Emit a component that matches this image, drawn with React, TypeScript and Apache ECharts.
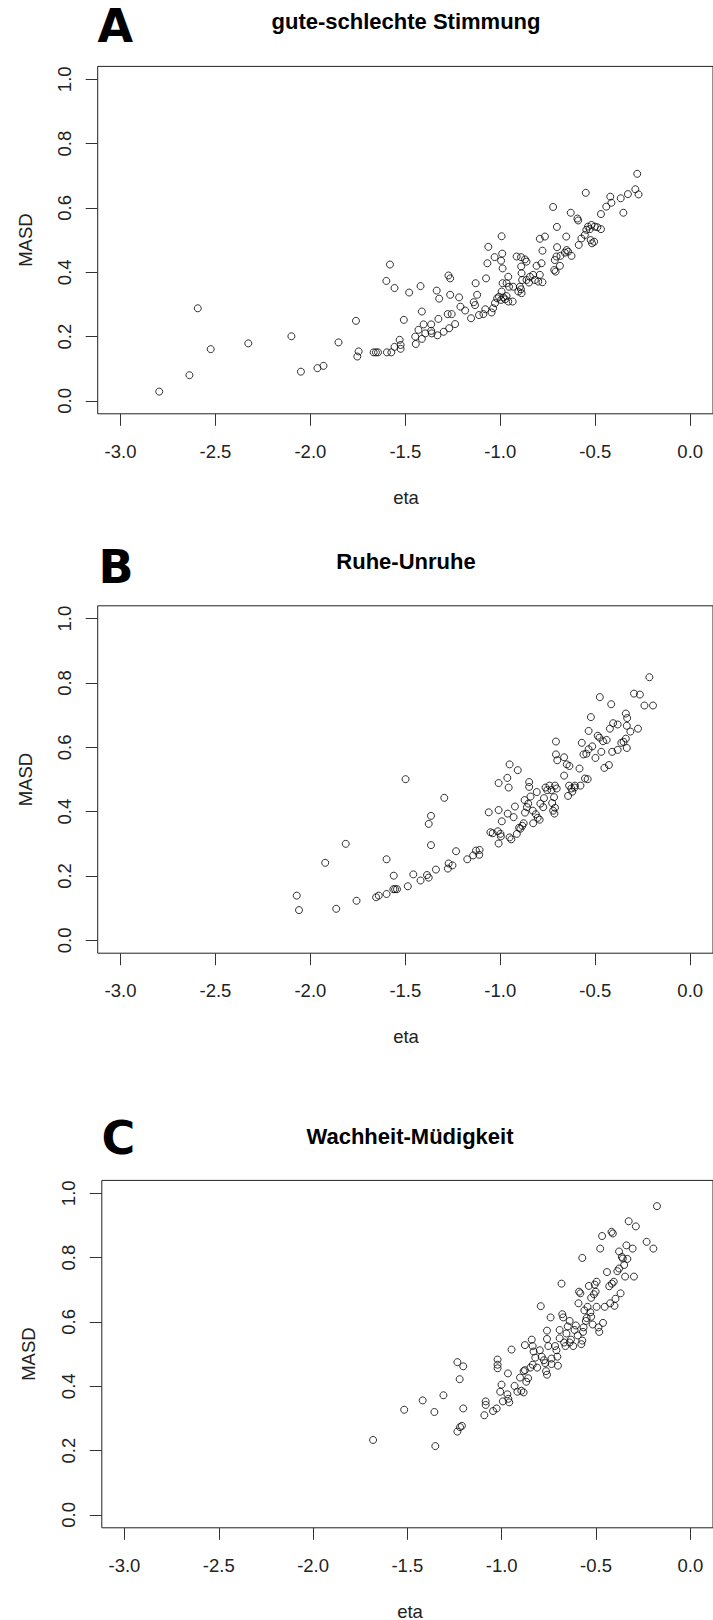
import React, { useEffect, useRef } from "react";
import * as echarts from "echarts";

const xTicks = [-3.0, -2.5, -2.0, -1.5, -1.0, -0.5, 0.0];
const yTicks = [0.0, 0.2, 0.4, 0.6, 0.8, 1.0];
const panelLetters = ["A", "B", "C"];
const panelTitles = ["gute-schlechte Stimmung", "Ruhe-Unruhe", "Wachheit-Müdigkeit"];
const xName = "eta";
const yName = "MASD";

const pointsA = [
  [-2.796,0.029],[-2.637,0.080],[-2.593,0.288],[-2.525,0.161],[-2.327,0.179],[-2.100,0.201],[-2.050,0.091],[-1.963,0.102],[-1.931,0.109],[-1.852,0.182],[-1.760,0.249],[-1.746,0.154],[-1.753,0.138],[-1.667,0.151],[-1.655,0.151],[-1.644,0.151],[-1.597,0.151],[-1.574,0.151],[-1.600,0.373],[-1.581,0.424],[-1.557,0.351],[-1.557,0.168],[-1.530,0.190],[-1.525,0.174],[-1.525,0.162],[-1.508,0.252],[-1.480,0.337],
  [-1.420,0.357],[-1.413,0.278],[-1.445,0.177],[-1.448,0.200],[-1.431,0.221],[-1.413,0.193],[-1.404,0.238],[-1.395,0.210],[-1.364,0.218],[-1.361,0.210],[-1.364,0.238],[-1.331,0.204],[-1.335,0.343],[-1.322,0.318],[-1.326,0.255],[-1.298,0.215],[-1.273,0.390],[-1.264,0.381],[-1.277,0.270],[-1.256,0.270],[-1.264,0.330],[-1.269,0.226],[-1.238,0.239],[-1.217,0.322],[-1.210,0.293],[-1.185,0.281],[-1.154,0.257],[-1.140,0.307],[-1.133,0.298],[-1.130,0.366],[-1.122,0.330],[-1.112,0.267],[-1.089,0.270],[-1.079,0.285],[-1.075,0.381],[-1.068,0.428],[-1.063,0.479],[-1.046,0.275],[-1.030,0.447],[-0.990,0.458],[-0.993,0.512],[-0.996,0.436],[-0.988,0.412],[-0.988,0.366],
  [-1.017,0.319],[-1.007,0.324],[-0.996,0.314],[-0.984,0.322],[-0.975,0.316],[-0.967,0.326],[-0.958,0.309],[-0.935,0.309],[-1.028,0.304],[-1.038,0.288],[-0.993,0.340],[-0.954,0.355],[-0.932,0.355],[-0.958,0.386],[-0.967,0.366],
  [-0.914,0.449],[-0.891,0.447],[-0.870,0.440],[-0.862,0.433],[-0.890,0.418],[-0.888,0.397],[-0.885,0.376],[-0.897,0.355],[-0.905,0.340],[-0.888,0.335],[-0.891,0.347],[-0.862,0.376],[-0.844,0.386],[-0.827,0.392],[-0.818,0.376],[-0.849,0.368],[-0.800,0.371],[-0.778,0.369],[-0.792,0.392],[-0.809,0.420],[-0.783,0.428],[-0.778,0.467],[-0.792,0.504],[-0.765,0.511],[-0.702,0.541],[-0.722,0.603],[-0.701,0.478],[-0.653,0.511],[-0.629,0.585],[-0.594,0.567],[-0.590,0.561],[-0.550,0.647],[-0.713,0.438],[-0.704,0.449],[-0.716,0.407],[-0.709,0.402],[-0.686,0.420],[-0.683,0.451],[-0.660,0.461],[-0.643,0.464],[-0.625,0.451],[-0.651,0.469],[-0.587,0.485],[-0.573,0.505],[-0.555,0.516],[-0.547,0.532],[-0.538,0.542],[-0.529,0.534],[-0.520,0.547],[-0.503,0.542],[-0.489,0.540],[-0.470,0.534],[-0.524,0.500],[-0.517,0.490],[-0.506,0.495],[-0.470,0.581],[-0.442,0.604],[-0.421,0.635],[-0.415,0.616],[-0.366,0.630],[-0.352,0.585],[-0.328,0.643],[-0.289,0.658],[-0.279,0.706],[-0.272,0.642]
];

const pointsB = [
  [-2.072,0.139],[-2.060,0.094],[-1.922,0.241],[-1.864,0.098],[-1.814,0.300],[-1.757,0.123],[-1.654,0.134],[-1.640,0.139],[-1.599,0.252],[-1.599,0.144],[-1.561,0.201],[-1.563,0.159],[-1.554,0.159],[-1.544,0.159],[-1.499,0.501],[-1.487,0.168],[-1.458,0.205],[-1.420,0.186],[-1.386,0.203],[-1.377,0.195],[-1.377,0.362],[-1.365,0.387],[-1.365,0.296],[-1.339,0.220],[-1.295,0.443],[-1.276,0.223],[-1.272,0.239],[-1.252,0.233],[-1.233,0.277],[-1.174,0.252],[-1.143,0.264],[-1.128,0.279],[-1.109,0.281],[-1.111,0.266],
  [-1.061,0.398],[-1.052,0.336],[-1.040,0.333],[-1.009,0.405],[-1.009,0.489],[-1.009,0.301],[-1.013,0.339],[-0.999,0.331],[-0.997,0.323],[-0.992,0.370],[-0.963,0.505],[-0.951,0.547],[-0.956,0.475],[-0.961,0.394],[-0.951,0.320],[-0.942,0.314],[-0.930,0.383],[-0.923,0.416],[-0.908,0.529],[-0.913,0.331],[-0.901,0.350],[-0.894,0.347],[-0.884,0.356],[-0.877,0.364],[-0.870,0.397],[-0.872,0.436],[-0.860,0.414],[-0.853,0.425],[-0.848,0.492],[-0.848,0.477],[-0.841,0.447],[-0.829,0.403],[-0.827,0.364],[-0.813,0.392],[-0.803,0.381],[-0.793,0.375],[-0.808,0.461],[-0.789,0.425],[-0.774,0.414],[-0.770,0.442],[-0.762,0.475],[-0.753,0.467],[-0.741,0.481],[-0.731,0.467],[-0.727,0.427],[-0.722,0.403],[-0.715,0.394],[-0.712,0.412],[-0.717,0.445],[-0.712,0.481],[-0.703,0.472],
  [-0.707,0.618],[-0.707,0.578],[-0.700,0.560],[-0.664,0.569],[-0.664,0.512],[-0.650,0.547],[-0.636,0.542],[-0.643,0.449],[-0.638,0.481],[-0.626,0.472],[-0.621,0.462],[-0.609,0.475],[-0.607,0.481],[-0.583,0.534],[-0.578,0.481],[-0.571,0.614],[-0.562,0.578],[-0.554,0.503],[-0.540,0.501],[-0.547,0.580],[-0.535,0.594],[-0.535,0.651],[-0.523,0.694],[-0.516,0.603],[-0.499,0.567],[-0.487,0.636],[-0.478,0.630],[-0.476,0.756],[-0.468,0.586],[-0.459,0.619],[-0.452,0.536],[-0.440,0.623],[-0.428,0.545],[-0.416,0.734],[-0.423,0.658],[-0.411,0.586],[-0.406,0.675],[-0.382,0.671],[-0.382,0.592],[-0.363,0.614],[-0.351,0.617],[-0.339,0.705],[-0.332,0.691],[-0.334,0.667],[-0.339,0.627],[-0.334,0.598],[-0.315,0.649],[-0.296,0.767],[-0.265,0.764],[-0.275,0.658],[-0.241,0.730],[-0.215,0.818],[-0.196,0.730]
];

const pointsC = [
  [-1.682,0.233],[-1.517,0.327],[-1.419,0.356],[-1.357,0.320],[-1.352,0.214],[-1.309,0.372],[-1.235,0.475],[-1.223,0.422],[-1.204,0.462],[-1.204,0.331],[-1.235,0.259],[-1.221,0.273],[-1.211,0.277],[-1.092,0.310],[-1.085,0.353],[-1.085,0.342],[-1.046,0.323],[-1.027,0.331],[-1.022,0.483],[-1.022,0.467],[-1.022,0.456],[-1.001,0.405],[-1.008,0.383],[-0.994,0.353],[-0.970,0.375],[-0.965,0.361],[-0.960,0.350],[-0.967,0.440],[-0.948,0.514],[-0.932,0.401],[-0.917,0.383],[-0.896,0.386],[-0.884,0.381],[-0.903,0.427],[-0.884,0.447],[-0.877,0.450],[-0.877,0.528],[-0.870,0.414],[-0.860,0.425],[-0.848,0.458],[-0.836,0.467],[-0.841,0.545],[-0.836,0.525],[-0.831,0.508],[-0.822,0.489],[-0.812,0.458],
  [-0.793,0.649],[-0.798,0.512],[-0.788,0.492],[-0.776,0.481],[-0.769,0.472],[-0.765,0.447],[-0.760,0.436],[-0.760,0.573],[-0.760,0.547],[-0.753,0.525],[-0.741,0.614],[-0.736,0.486],[-0.736,0.469],[-0.717,0.525],[-0.710,0.512],[-0.705,0.492],[-0.702,0.464],[-0.693,0.549],[-0.693,0.575],[-0.683,0.719],[-0.679,0.624],[-0.674,0.614],[-0.669,0.536],[-0.662,0.525],[-0.657,0.564],[-0.650,0.586],[-0.640,0.603],[-0.640,0.536],[-0.633,0.545],[-0.621,0.525],[-0.614,0.575],[-0.607,0.589],[-0.597,0.558],[-0.593,0.658],[-0.590,0.694],[-0.583,0.689],[-0.573,0.799],[-0.578,0.531],[-0.573,0.542],[-0.569,0.569],[-0.566,0.583],[-0.562,0.636],[-0.554,0.603],[-0.550,0.612],[-0.545,0.647],[-0.538,0.712],[-0.530,0.630],[-0.526,0.616],[-0.526,0.675],[-0.518,0.592],[-0.511,0.686],[-0.502,0.694],[-0.507,0.716],[-0.497,0.725],[-0.497,0.647],[-0.487,0.583],[-0.483,0.569],
  [-0.478,0.828],[-0.468,0.867],[-0.463,0.597],[-0.454,0.647],[-0.442,0.755],[-0.430,0.711],[-0.425,0.658],[-0.418,0.880],[-0.411,0.875],[-0.416,0.719],[-0.406,0.725],[-0.402,0.650],[-0.397,0.672],[-0.387,0.758],[-0.378,0.766],[-0.378,0.819],[-0.370,0.689],[-0.363,0.802],[-0.358,0.797],[-0.351,0.777],[-0.346,0.741],[-0.339,0.838],[-0.327,0.913],[-0.334,0.796],[-0.306,0.828],[-0.299,0.741],[-0.289,0.897],[-0.232,0.849],[-0.196,0.828],[-0.177,0.960]
];

const panelPoints = [pointsA, pointsB, pointsC];

const FONT = "'Liberation Sans', Arial, sans-serif";

// layout per panel (pixel geometry only)
const layout = [
  { left: 97.7, top: 66.4, letterX: 97.5, letterY: 26, titleX: 406, titleY: 21, etaY: 497, masdX: 25 },
  { left: 97.7, top: 605.8, letterX: 98.5, letterY: 566.5, titleX: 406, titleY: 561, etaY: 1036, masdX: 25 },
  { left: 101.8, top: 1180.4, letterX: 101.5, letterY: 1138, titleX: 410, titleY: 1136, etaY: 1611, masdX: 28 },
];
const GRID_W = 617;
const GRID_H = 347.4;

export default function App() {
  const ref = useRef<HTMLDivElement>(null);
  useEffect(() => {
    if (!ref.current) return;
    const chart = echarts.init(ref.current, undefined, { renderer: "svg" });
    const grids = layout.map((l) => ({
      left: l.left,
      top: l.top,
      width: GRID_W,
      height: GRID_H,
      show: true,
      borderColor: "#222",
      borderWidth: 1,
      backgroundColor: "transparent",
      containLabel: false,
    }));
    const xAxes = layout.map((_, i) => ({
      type: "value",
      gridIndex: i,
      position: "bottom",
      min: -3.12,
      max: 0.12,
      axisLine: { show: false, onZero: false },
      splitLine: { show: false },
      axisTick: { show: true, inside: false, length: 12, lineStyle: { color: "#333", width: 1 }, customValues: xTicks },
      axisLabel: {
        show: true,
        customValues: xTicks,
        formatter: (v: number) => v.toFixed(1),
        fontFamily: FONT,
        fontSize: 18.5,
        color: "#222",
        margin: 28,
      },
    }));
    const yAxes = layout.map((_, i) => ({
      type: "value",
      gridIndex: i,
      position: "left",
      min: -0.04,
      max: 1.04,
      axisLine: { show: false, onZero: false },
      splitLine: { show: false },
      axisTick: { show: true, inside: false, length: 12, lineStyle: { color: "#333", width: 1 }, customValues: yTicks },
      axisLabel: {
        show: true,
        customValues: yTicks,
        rotate: 90,
        formatter: (v: number) => v.toFixed(1),
        fontFamily: FONT,
        fontSize: 18.5,
        color: "#222",
        margin: 24,
      },
    }));
    const series = panelPoints.map((pts, i) => ({
      type: "scatter",
      xAxisIndex: i,
      yAxisIndex: i,
      data: pts,
      symbol: "circle",
      symbolSize: 7,
      itemStyle: { color: "rgba(0,0,0,0)", borderColor: "#000", borderWidth: 1 },
      emphasis: { disabled: true },
      silent: true,
    }));
    const graphics: any[] = [];
    layout.forEach((l, i) => {
      graphics.push({
        type: "text",
        x: l.letterX,
        y: l.letterY,
        style: {
          text: panelLetters[i],
          fontFamily: "'DejaVu Sans', sans-serif",
          fontWeight: "bold",
          fontSize: 46,
          fill: "#000",
          align: "left",
          verticalAlign: "middle",
        },
      });
      graphics.push({
        type: "text",
        x: l.titleX,
        y: l.titleY,
        style: {
          text: panelTitles[i],
          fontFamily: FONT,
          fontWeight: "bold",
          fontSize: 22,
          fill: "#000",
          align: "center",
          verticalAlign: "middle",
        },
      });
      graphics.push({
        type: "text",
        x: l.titleX,
        y: l.etaY,
        style: {
          text: xName,
          fontFamily: FONT,
          fontSize: 18.5,
          fill: "#222",
          align: "center",
          verticalAlign: "middle",
        },
      });
      const midY = l.top + GRID_H / 2;
      graphics.push({
        type: "text",
        x: l.masdX,
        y: midY,
        rotation: Math.PI / 2,
        style: {
          text: yName,
          fontFamily: FONT,
          fontSize: 18.5,
          fill: "#222",
          align: "center",
          verticalAlign: "middle",
        },
      });
    });
    chart.setOption({
      animation: false,
      backgroundColor: "#fff",
      grid: grids,
      xAxis: xAxes,
      yAxis: yAxes,
      series,
      graphic: graphics,
    });
    return () => chart.dispose();
  }, []);
  return (
    <div
      ref={ref}
      style={{ position: "absolute", left: 0, top: 0, width: 713, height: 1620, background: "#fff" }}
    />
  );
}
